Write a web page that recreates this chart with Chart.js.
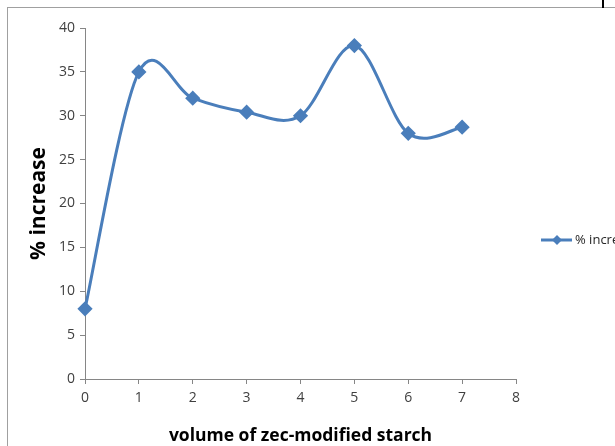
<!DOCTYPE html>
<html>
<head>
<meta charset="utf-8">
<script src="https://cdn.jsdelivr.net/npm/chart.js@4/dist/chart.umd.min.js"></script>
<style>
  html, body { margin: 0; padding: 0; background: #fff; overflow: hidden; }
  #wrap { position: relative; width: 615px; height: 446px; }
  #frame { position: absolute; left: 7px; top: 7px; width: 620px; height: 450px;
           border-left: 1px solid #a0a0a0; border-top: 1px solid #a0a0a0; }
  #mark { position: absolute; left: 602px; top: 0; width: 2px; height: 8px; background: #000; }
  canvas { position: absolute; left: 0; top: 0; }
</style>
</head>
<body>
<div id="wrap">
  <div id="frame"></div>
  <div id="mark"></div>
  <canvas id="c" width="615" height="446"></canvas>
</div>
<script>
const xValues = [0, 1, 2, 3, 4, 5, 6, 7];
const yValues = [8, 35, 32, 30.4, 30, 38, 28, 28.7];
const seriesName = '% increase';
const xTitle = 'volume of zec-modified starch';
const yTitle = '% increase';

const BLUE = '#4a7ebb';
const AXIS = '#868686';
const FAMILY = '"Open Sans", sans-serif';
const TICKFONT = { family: FAMILY, size: 14 };

// Excel-like smoothing (Catmull-Rom style control points)
const smoothPlugin = {
  id: 'excelSmooth',
  beforeDatasetDraw(chart, args) {
    const meta = args.meta;
    const line = meta.dataset;
    if (!line) return;
    line.updateControlPoints(chart.chartArea, 'x');
    const pts = meta.data;
    const n = pts.length;
    for (let i = 0; i < n; i++) {
      const p = pts[i];
      const prev = pts[Math.max(0, i - 1)];
      const next = pts[Math.min(n - 1, i + 1)];
      const dx = (next.x - prev.x) / 6;
      const dy = (next.y - prev.y) / 6;
      p.cp1x = p.x - dx; p.cp1y = p.y - dy;
      p.cp2x = p.x + dx; p.cp2y = p.y + dy;
    }
    delete line._path;
  }
};

const legendPlugin = {
  id: 'customLegend',
  afterDraw(chart) {
    const ctx = chart.ctx;
    const x0 = chart.chartArea.right + 25;
    const y = 240;
    ctx.save();
    ctx.strokeStyle = BLUE;
    ctx.lineWidth = 3;
    ctx.beginPath();
    ctx.moveTo(x0, y);
    ctx.lineTo(x0 + 31, y);
    ctx.stroke();
    ctx.fillStyle = BLUE;
    ctx.beginPath();
    const cx = x0 + 16, r = 5;
    ctx.moveTo(cx, y - r); ctx.lineTo(cx + r, y); ctx.lineTo(cx, y + r); ctx.lineTo(cx - r, y);
    ctx.closePath(); ctx.fill();
    ctx.fillStyle = '#262626';
    ctx.font = '13px ' + FAMILY;
    ctx.textBaseline = 'middle';
    ctx.fillText(seriesName, x0 + 34, y);
    ctx.restore();
  }
};

new Chart(document.getElementById('c'), {
  type: 'line',
  data: {
    datasets: [{
      label: seriesName,
      data: xValues.map((x, i) => ({ x: x, y: yValues[i] })),
      borderColor: BLUE,
      backgroundColor: BLUE,
      borderWidth: 3,
      tension: 0.4,
      pointStyle: 'rectRot',
      pointRadius: 5.5,
      pointHoverRadius: 5.5,
      pointBackgroundColor: BLUE,
      pointBorderColor: BLUE,
      fill: false,
      clip: false
    }]
  },
  options: {
    responsive: false,
    animation: false,
    events: [],
    layout: { padding: { top: 28, right: 99, left: 0, bottom: 0 } },
    plugins: { legend: { display: false }, tooltip: { enabled: false } },
    scales: {
      x: {
        type: 'linear', min: 0, max: 8,
        afterFit(s) { s.height = 67; },
        ticks: { stepSize: 1, color: '#404040', font: TICKFONT, padding: 6, maxRotation: 0 },
        grid: { display: true, drawOnChartArea: false, drawTicks: true, tickLength: 5, color: AXIS },
        border: { color: AXIS, width: 1 },
        title: { display: true, text: xTitle, color: '#000', font: { family: FAMILY, size: 17.5, weight: 'bold' }, padding: { top: 0, bottom: -1 } }
      },
      y: {
        min: 0, max: 40,
        afterFit(s) { s.width = 85; },
        ticks: { stepSize: 5, color: '#404040', font: TICKFONT, padding: 5 },
        grid: { display: true, drawOnChartArea: false, drawTicks: true, tickLength: 5, color: AXIS },
        border: { color: AXIS, width: 1 },
        title: { display: true, text: yTitle, color: '#000', font: { family: FAMILY, size: 21, weight: 'bold' }, padding: { top: 26, bottom: 0 } }
      }
    }
  },
  plugins: [smoothPlugin, legendPlugin]
});
</script>
</body>
</html>
